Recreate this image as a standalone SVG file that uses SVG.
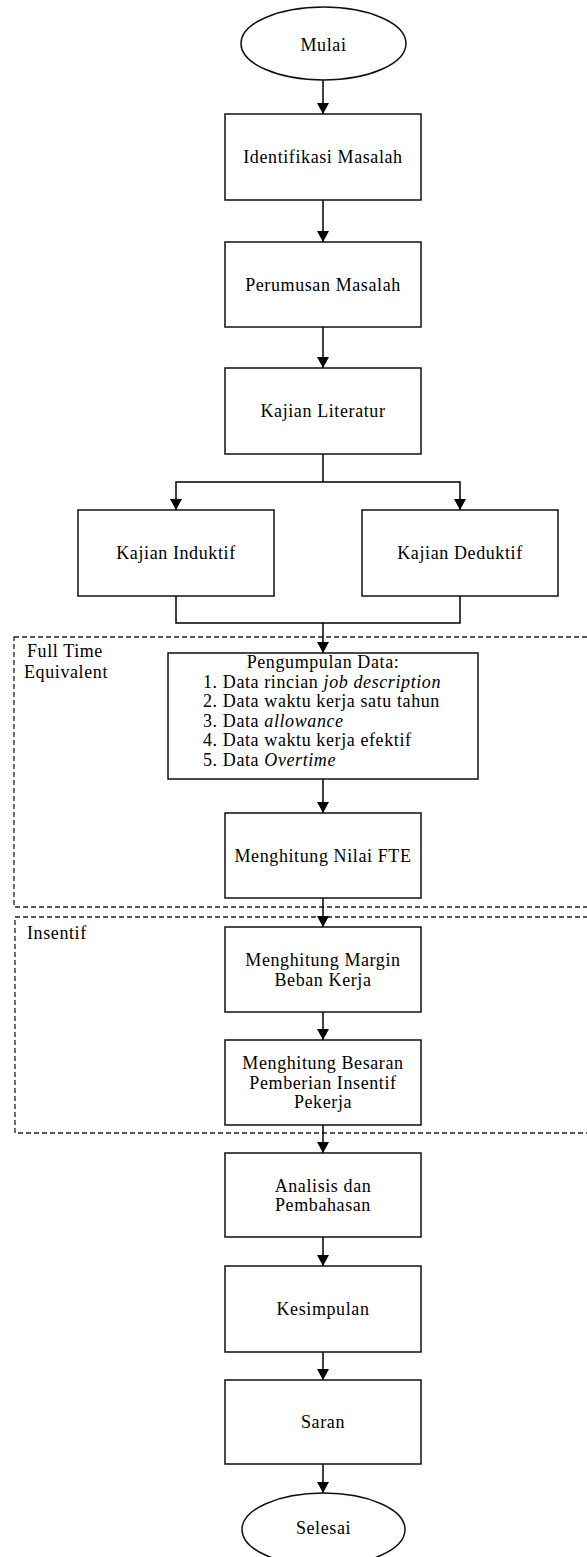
<svg xmlns="http://www.w3.org/2000/svg" width="587" height="1557" viewBox="0 0 587 1557">
<style>
  .box { fill: #fff; stroke: #111; stroke-width: 1.5; }
  .grp { fill: none; stroke: #222; stroke-width: 1.3; stroke-dasharray: 5 3; }
  .ln { fill: none; stroke: #000; stroke-width: 1.5; }
  .arr { marker-end: url(#ah); }
  text { font-family: "Liberation Serif", "Times New Roman", serif; font-size: 18px; letter-spacing: 0.6px; fill: #000; }
  .c { text-anchor: middle; }
</style>
<defs>
  <marker id="ah" markerUnits="userSpaceOnUse" viewBox="0 0 11 12" refX="11" refY="6" markerWidth="11" markerHeight="12" orient="auto">
    <path d="M0,0 L11,6 L0,12 z" fill="#000"/>
  </marker>
</defs>
<rect width="587" height="1557" fill="#fff"/>

<g id="group-fte">
  <rect class="grp" x="14" y="637" width="600" height="270"/>
  <text x="27" y="657">Full Time</text>
  <text x="24" y="678">Equivalent</text>
</g>
<g id="group-insentif">
  <rect class="grp" x="15" y="917" width="600" height="216"/>
  <text x="27" y="939">Insentif</text>
</g>

<g id="connectors">
  <line class="ln arr" x1="323" y1="80" x2="323" y2="114"/>
  <line class="ln arr" x1="323" y1="200" x2="323" y2="242"/>
  <line class="ln arr" x1="323" y1="327" x2="323" y2="368"/>
  <polyline class="ln" points="323,454 323,482"/>
  <polyline class="ln arr" points="323,482 176,482 176,510"/>
  <polyline class="ln arr" points="323,482 460,482 460,510"/>
  <polyline class="ln" points="176,596 176,623 460,623 460,596"/>
  <line class="ln arr" x1="323" y1="623" x2="323" y2="653"/>
  <line class="ln arr" x1="323" y1="779" x2="323" y2="813"/>
  <line class="ln arr" x1="323" y1="898" x2="323" y2="927"/>
  <line class="ln arr" x1="323" y1="1012" x2="323" y2="1040"/>
  <line class="ln arr" x1="323" y1="1125" x2="323" y2="1153"/>
  <line class="ln arr" x1="323" y1="1237" x2="323" y2="1266"/>
  <line class="ln arr" x1="323" y1="1352" x2="323" y2="1380"/>
  <line class="ln arr" x1="323" y1="1464" x2="323" y2="1493"/>
</g>

<g id="mulai">
  <ellipse class="box" cx="323.5" cy="43.5" rx="82.5" ry="36.5"/>
  <text class="c" x="323.5" y="51">Mulai</text>
</g>
<g id="identifikasi">
  <rect class="box" x="225" y="114" width="196" height="86"/>
  <text class="c" x="323" y="163">Identifikasi Masalah</text>
</g>
<g id="perumusan">
  <rect class="box" x="225" y="242" width="196" height="85"/>
  <text class="c" x="323" y="290.5">Perumusan Masalah</text>
</g>
<g id="kajian-literatur">
  <rect class="box" x="225" y="368" width="196" height="86"/>
  <text class="c" x="323" y="417">Kajian Literatur</text>
</g>
<g id="kajian-induktif">
  <rect class="box" x="78" y="510" width="196" height="86"/>
  <text class="c" x="176" y="559">Kajian Induktif</text>
</g>
<g id="kajian-deduktif">
  <rect class="box" x="362" y="510" width="196" height="86"/>
  <text class="c" x="460" y="559">Kajian Deduktif</text>
</g>
<g id="pengumpulan">
  <rect class="box" x="168" y="653" width="310" height="126"/>
  <text class="c" x="323" y="668">Pengumpulan Data:</text>
  <text x="203" y="687.5">1. Data rincian <tspan font-style="italic">job description</tspan></text>
  <text x="203" y="707">2. Data waktu kerja satu tahun</text>
  <text x="203" y="726.5">3. Data <tspan font-style="italic">allowance</tspan></text>
  <text x="203" y="746">4. Data waktu kerja efektif</text>
  <text x="203" y="765.5">5. Data <tspan font-style="italic">Overtime</tspan></text>
</g>
<g id="fte">
  <rect class="box" x="225" y="813" width="196" height="85"/>
  <text class="c" x="323" y="861.5">Menghitung Nilai FTE</text>
</g>
<g id="margin">
  <rect class="box" x="225" y="927" width="196" height="85"/>
  <text class="c" x="323" y="966">Menghitung Margin</text>
  <text class="c" x="323" y="985.5">Beban Kerja</text>
</g>
<g id="besaran">
  <rect class="box" x="225" y="1040" width="196" height="85"/>
  <text class="c" x="323" y="1069">Menghitung Besaran</text>
  <text class="c" x="323" y="1088.5">Pemberian Insentif</text>
  <text class="c" x="323" y="1108">Pekerja</text>
</g>
<g id="analisis">
  <rect class="box" x="225" y="1153" width="196" height="84"/>
  <text class="c" x="323" y="1191.5">Analisis dan</text>
  <text class="c" x="323" y="1211">Pembahasan</text>
</g>
<g id="kesimpulan">
  <rect class="box" x="225" y="1266" width="196" height="86"/>
  <text class="c" x="323" y="1315">Kesimpulan</text>
</g>
<g id="saran">
  <rect class="box" x="225" y="1380" width="196" height="84"/>
  <text class="c" x="323" y="1428">Saran</text>
</g>
<g id="selesai">
  <ellipse class="box" cx="323.5" cy="1529.5" rx="81.5" ry="36.5"/>
  <text class="c" x="323.5" y="1534">Selesai</text>
</g>
</svg>
